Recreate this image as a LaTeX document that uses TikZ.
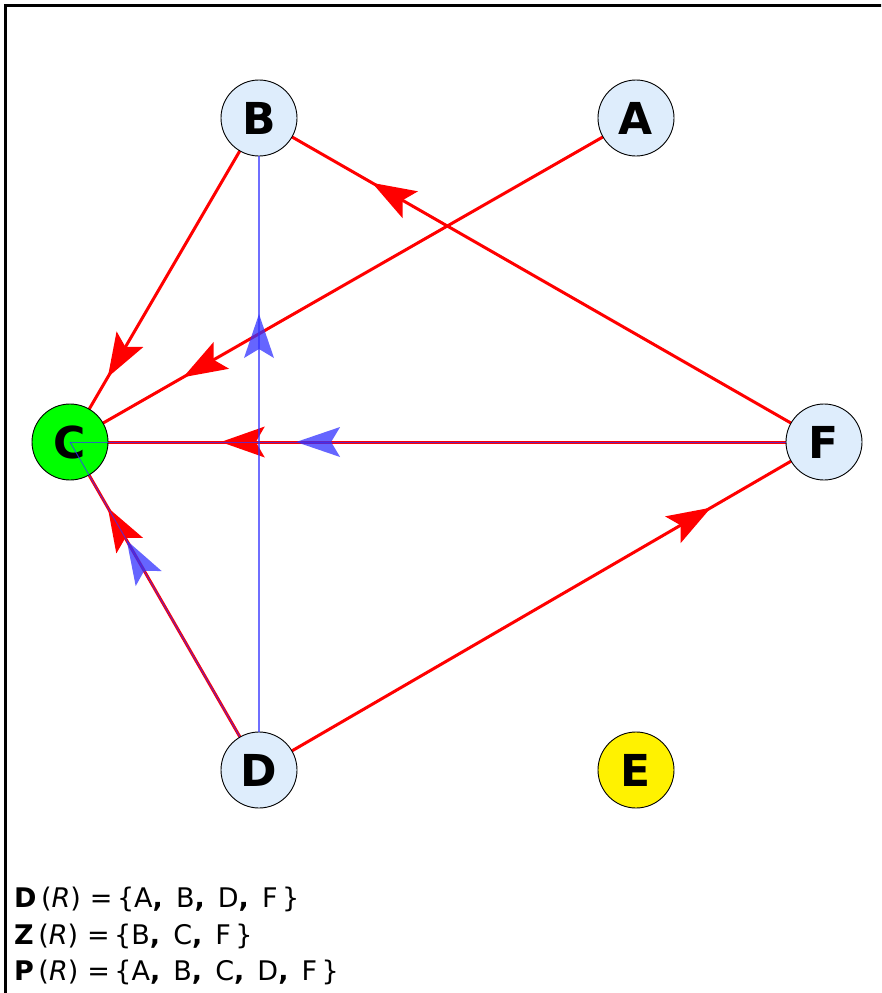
\documentclass[tikz,border=0pt]{standalone}
\usepackage{fontspec}
\setmainfont{DejaVu Sans}
\usetikzlibrary{decorations.markings}
\definecolor{nodeblue}{RGB}{222,237,252}
\definecolor{bl}{RGB}{50,50,255}
\newcommand{\redhead}{\fill[red] (0,0) -- (-44pt,15.5pt) -- (-35pt,0pt) -- (-44pt,-15.5pt) -- cycle;}
\newcommand{\bluehead}{\fill[bl,opacity=0.75] (0,0) -- (-44pt,15pt) -- (-35pt,0pt) -- (-44pt,-15pt) -- cycle;}
\newcommand{\bcm}{\textbf{,}}
\begin{document}
\begin{tikzpicture}[x=1pt,y=-1pt,
  vtx/.style={circle, draw=black, line width=0.9pt, minimum size=76pt, inner sep=0pt, fill=nodeblue, font=\fontsize{44}{44}\selectfont\bfseries},
  redge/.style={draw=red, line width=3pt, postaction={decorate},
    decoration={markings, mark=at position #1 with {\redhead}}},
  bedge/.style={draw=bl, draw opacity=0.7, line width=1pt, postaction={decorate},
    decoration={markings, mark=at position #1 with {\bluehead}}},
  lbl/.style={anchor=base west, inner sep=0pt, font=\fontsize{27}{27}\selectfont}
]
\clip (0,0) rectangle (881,993);
\useasboundingbox (0,0) rectangle (881,993);
\fill[white] (0,0) rectangle (881,993);
\draw[line width=3pt] (5,1100) -- (5,5) -- (1000,5);

% node positions
\coordinate (pB) at (259,118);
\coordinate (pA) at (636,118);
\coordinate (pC) at (70,442);
\coordinate (pF) at (824,442);
\coordinate (pD) at (259,770);
\coordinate (pE) at (636,770);

% red edges (center to center, under nodes)
\draw[redge=0.8] (pB) -- (pC);
\draw[redge=0.8] (pA) -- (pC);
\draw[redge=0.8] (pF) -- (pB);
\draw[redge=0.8] (pF) -- (pC);
\draw[redge=0.8] (pD) -- (pC);
\draw[redge=0.8] (pD) -- (pF);

% nodes
\node[vtx] (B) at (pB) {B};
\node[vtx] (A) at (pA) {A};
\node[vtx, fill=green] (C) at (pC) {C};
\node[vtx] (F) at (pF) {F};
\node[vtx] (D) at (pD) {D};
\node[vtx, fill=yellow] (E) at (pE) {E};

% blue edges
\draw[bedge=0.726, line width=1.6pt] (D) -- (B);
\draw[bedge=0.684] (F) -- (C.center);
\draw[bedge=0.666] (D) -- (C.center);

% labels
\node[lbl] (l1) at (14,907) {\textbf{D}\,(\textit{R})\,\,=\,\{A\bcm\ \,B\bcm\ \,D\bcm\ \,F\,\}};
\node[lbl] (l2) at (14,944) {\textbf{Z}\,(\textit{R})\,\,=\,\{B\bcm\ \,C\bcm\ \,F\,\}};
\node[lbl] (l3) at (14,980) {\textbf{P}\,(\textit{R})\,\,=\,\{A\bcm\ \,B\bcm\ \,C\bcm\ \,D\bcm\ \,F\,\}};
\end{tikzpicture}
\end{document}
